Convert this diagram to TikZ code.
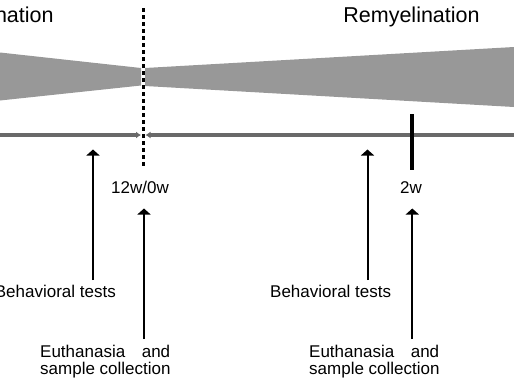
\documentclass[tikz,border=0pt]{standalone}
\usepackage{fontspec}
\setmainfont{Liberation Sans}
\usetikzlibrary{arrows.meta}
\definecolor{bandgray}{RGB}{152,152,152}
\definecolor{axisgray}{RGB}{105,105,105}
\begin{document}
\begin{tikzpicture}[x=1pt,y=-1pt,
  title/.style={font=\fontsize{21.5}{24}\selectfont, inner sep=0pt},
  lbl/.style={font=\fontsize{17}{17}\selectfont, inner sep=0pt},
  band/.style={fill=bandgray, draw=none},
  axisline/.style={draw=axisgray, line width=3.5pt, -{Latex[length=5pt,width=7pt]}},
  upArrow/.style={draw=black, line width=2pt, -{Triangle[length=6pt,width=13pt]}},
  divider/.style={draw=black, line width=3pt, dash pattern=on 4pt off 3pt},
  tickmark/.style={draw=black, line width=3.5pt}]
\useasboundingbox (0,0) rectangle (514,386);
\clip (0,0) rectangle (514,386);
% bands
\fill[band] (0,52.5) -- (141,68) -- (141,85.5) -- (0,100.5) -- cycle;
\fill[band] (145,68) -- (514,47) -- (514,107) -- (145,86) -- cycle;
% titles
\node[title, anchor=base] (demy) at (-14.5,22) {Demyelination};
\node[title, anchor=base] (remy) at (411.5,22) {Remyelination};
% axis
\coordinate (axL) at (0,135);
\coordinate (axLend) at (141,135);
\coordinate (axR) at (514,135);
\coordinate (axRend) at (145.5,135);
\draw[axisline] (axL) -- (axLend);
\draw[axisline] (axR) -- (axRend);
% divider
\coordinate (dTop) at (143.3,8);
\coordinate (dBot) at (143.3,167);
\draw[divider] (dTop) -- (dBot);
% 2w tick
\coordinate (tTop) at (412,114);
\coordinate (tBot) at (412,170);
\draw[tickmark] (tTop) -- (tBot);
% labels
\node[lbl, anchor=base] (w12) at (140,193) {12w/0w};
\node[lbl, anchor=base] (w2) at (411,193) {2w};
\node[lbl, anchor=base east] (behL) at (116,297.5) {Behavioral tests};
\node[lbl, anchor=base west] (behR) at (270,297.5) {Behavioral tests};
\node[lbl, anchor=north west, align=left] (euL) at (40,344.5) {\makebox[130pt][l]{Euthanasia\hfill and}\\sample collection};
\node[lbl, anchor=north west, align=left] (euR) at (309,344.5) {\makebox[130pt][l]{Euthanasia\hfill and}\\sample collection};
% arrows
\coordinate (bL0) at (93,280);
\coordinate (bL1) at (93,149.5);
\coordinate (bR0) at (367.5,280);
\coordinate (bR1) at (367.5,149.5);
\coordinate (eL0) at (144,339);
\coordinate (eL1) at (144,208.5);
\coordinate (eR0) at (412.3,339);
\coordinate (eR1) at (412.3,208.5);
\draw[upArrow] (bL0) -- (bL1);
\draw[upArrow] (bR0) -- (bR1);
\draw[upArrow] (eL0) -- (eL1);
\draw[upArrow] (eR0) -- (eR1);
\end{tikzpicture}
\end{document}
